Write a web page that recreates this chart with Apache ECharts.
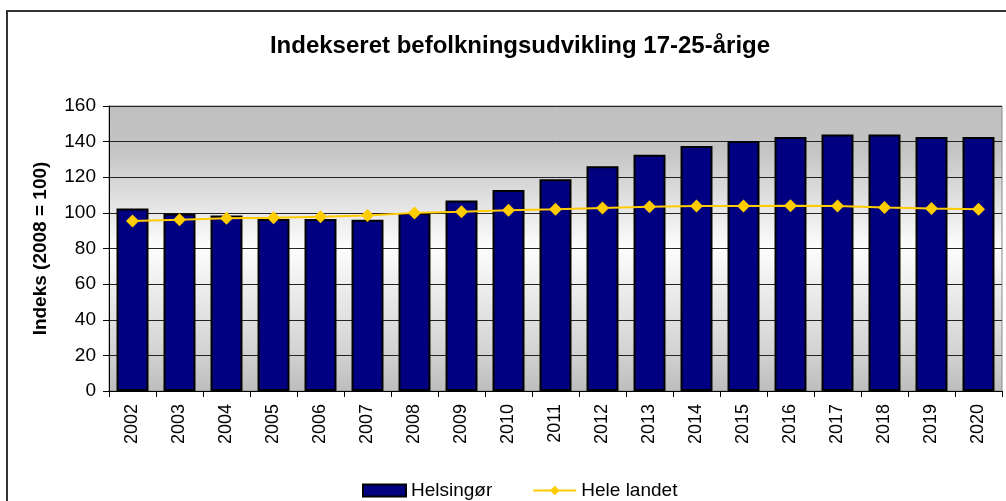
<!DOCTYPE html>
<html>
<head>
<meta charset="utf-8">
<script src="https://cdn.jsdelivr.net/npm/echarts@6/dist/echarts.min.js"></script>
<style>
  html, body { margin: 0; padding: 0; background: #fff; }
  #chart { width: 1006px; height: 501px; }
</style>
</head>
<body>
<div id="chart"></div>
<script>
var years = ['2002', '2003', '2004', '2005', '2006', '2007', '2008', '2009', '2010', '2011',
  '2012', '2013', '2014', '2015', '2016', '2017', '2018', '2019', '2020']
// Helsingør, indeks (2008 = 100)
var helsingor = [102.5, 99.7, 98.5, 96.5, 96.5, 96.1, 100, 107, 112.9, 118.9,
  126.2, 132.7, 137.6, 140.4, 142.6, 144, 144, 142.6, 142.6]
// Hele landet
var heleLandet = [95.5, 96.1, 97, 97.2, 97.8, 98.5, 100, 100.6, 101.5, 102.1,
  102.8, 103.4, 103.8, 103.9, 104, 103.8, 103, 102.5, 102.1]

var font = '"Liberation Sans", Arial, sans-serif'

var chart = echarts.init(document.getElementById('chart'))

chart.setOption({
  animation: false,
  textStyle: { fontFamily: font },
  title: {
    text: 'Indekseret befolkningsudvikling 17-25-årige',
    left: 515,
    top: 29,
    textAlign: 'center',
    textStyle: { fontSize: 24, fontWeight: 'bold', color: '#000', fontFamily: font }
  },
  graphic: [{
    type: 'rect',
    shape: { x: 7, y: 11, width: 1020, height: 520 },
    style: { fill: 'none', stroke: '#333', lineWidth: 2 },
    silent: true
  }],
  legend: {
    left: 357,
    top: 476,
    itemWidth: 43,
    itemHeight: 12,
    itemGap: 40,
    textStyle: { fontSize: 19, color: '#000', fontFamily: font },
    data: [
      { name: 'Helsingør', icon: 'rect' },
      { name: 'Hele landet' }
    ]
  },
  grid: {
    left: 109,
    right: 4,
    top: 106,
    bottom: 110,
    show: true,
    borderColor: '#888',
    borderWidth: 1,
    backgroundColor: new echarts.graphic.LinearGradient(0, 0, 0, 1, [
      { offset: 0, color: '#c0c0c0' },
      { offset: 0.15, color: '#c3c3c3' },
      { offset: 0.5, color: '#fdfdfd' },
      { offset: 0.85, color: '#d4d4d4' },
      { offset: 1, color: '#bdbdbd' }
    ])
  },
  xAxis: {
    type: 'category',
    data: years,
    axisLine: { lineStyle: { color: '#000', width: 1 } },
    axisTick: { show: true, length: 6, lineStyle: { color: '#000' } },
    axisLabel: { rotate: 90, fontSize: 18, color: '#000', margin: 13 }
  },
  yAxis: {
    type: 'value',
    min: 0,
    max: 160,
    interval: 20,
    name: 'Indeks (2008 = 100)',
    nameLocation: 'middle',
    nameGap: 59,
    nameTextStyle: { fontSize: 19, fontWeight: 'bold', color: '#000', fontFamily: font },
    axisLine: { show: true, lineStyle: { color: '#000', width: 1 } },
    axisTick: { show: true, length: 6, lineStyle: { color: '#000' } },
    axisLabel: { fontSize: 19, color: '#000', margin: 13 },
    splitLine: { show: true, lineStyle: { color: '#222', width: 1 } }
  },
  series: [{
    name: 'Helsingør',
    type: 'bar',
    data: helsingor,
    barWidth: '68%',
    itemStyle: { color: '#000080', borderColor: '#000', borderWidth: 2 }
  }, {
    name: 'Hele landet',
    type: 'line',
    data: heleLandet,
    symbol: 'diamond',
    symbolSize: 13,
    lineStyle: { color: '#ffcc00', width: 2 },
    itemStyle: { color: '#ffcc00' }
  }]
})
</script>
</body>
</html>
